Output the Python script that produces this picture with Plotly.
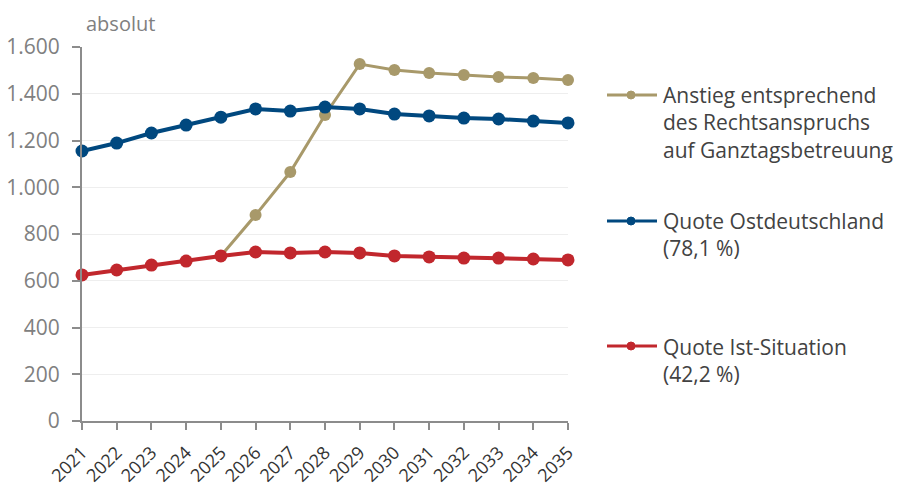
import plotly.graph_objects as go

years = list(range(2021, 2036))
gold_years = list(range(2025, 2036))
gold_vals = [706, 881, 1065, 1309, 1527, 1502, 1489, 1480, 1472, 1467, 1459]
blue_vals = [1155, 1189, 1232, 1266, 1300, 1335, 1326, 1343, 1335, 1313, 1305, 1296, 1292, 1283, 1275]
red_vals = [625, 646, 667, 684, 706, 723, 719, 723, 719, 706, 702, 697, 697, 693, 689]

name_gold = "Anstieg entsprechend<br>des Rechtsanspruchs<br>auf Ganztagsbetreuung"
name_blue = "Quote Ostdeutschland<br>(78,1 %)"
name_red = "Quote Ist-Situation<br>(42,2 %)"

y_ticks = [0, 200, 400, 600, 800, 1000, 1200, 1400, 1600]
y_tick_text = ["0", "200", "400", "600", "800", "1.000", "1.200", "1.400", "1.600"]

GOLD = "#A8996A"
BLUE = "#00487F"
RED = "#C1272D"

# plot-area geometry (pixels) used to place the hand-drawn legend
L, R, T, B = 82, 332, 47, 65
W, H = 900, 486
PW, PH = W - L - R, H - T - B


def px_x(px):
    return (px - L) / PW


def px_y(py):
    return (H - B - py) / PH


fig = go.Figure()
fig.add_trace(go.Scatter(x=gold_years, y=gold_vals, name=name_gold, mode="lines+markers",
                         line=dict(color=GOLD, width=3), marker=dict(size=12, color=GOLD),
                         cliponaxis=False))
fig.add_trace(go.Scatter(x=years, y=blue_vals, name=name_blue, mode="lines+markers",
                         line=dict(color=BLUE, width=4), marker=dict(size=13, color=BLUE),
                         cliponaxis=False))
fig.add_trace(go.Scatter(x=years, y=red_vals, name=name_red, mode="lines+markers",
                         line=dict(color=RED, width=4), marker=dict(size=13, color=RED),
                         cliponaxis=False))

# legend entries: (name, colour, symbol-row y px, text-centre y px)
legend_items = [
    (name_gold, GOLD, 95, 122.5),
    (name_blue, BLUE, 221, 234.5),
    (name_red, RED, 346, 360),
]
shapes = []
annotations = [dict(text="absolut", x=0, xref="paper", y=1, yref="paper",
                    xanchor="left", yanchor="bottom", yshift=8, xshift=2,
                    showarrow=False, font=dict(size=20, color="#808080"))]
for name, col, ly, ty in legend_items:
    shapes.append(dict(type="line", xref="paper", yref="paper",
                       x0=px_x(607), x1=px_x(657), y0=px_y(ly), y1=px_y(ly),
                       line=dict(color=col, width=3)))
    shapes.append(dict(type="circle", xref="paper", yref="paper",
                       x0=px_x(627), x1=px_x(635), y0=px_y(ly + 4), y1=px_y(ly - 4),
                       fillcolor=col, line=dict(color=col, width=1)))
    annotations.append(dict(text=name, x=px_x(661), xref="paper", y=px_y(ty), yref="paper",
                            xanchor="left", yanchor="middle", align="left", showarrow=False,
                            font=dict(size=21, color="#424242")))

fig.update_layout(
    width=W, height=H,
    margin=dict(l=L, r=R, t=T, b=B),
    paper_bgcolor="white", plot_bgcolor="white",
    font=dict(family="Open Sans", size=20, color="#808080"),
    showlegend=False,
    shapes=shapes,
    annotations=annotations,
    xaxis=dict(range=[2021, 2035], tickmode="array", tickvals=years,
               ticktext=[str(y) for y in years], tickangle=-45, automargin=False,
               showline=True, linecolor="#8c8c8c", linewidth=2,
               ticks="outside", ticklen=7, tickcolor="#8c8c8c", tickwidth=2,
               ticklabelstandoff=5,
               showgrid=False, zeroline=False,
               tickfont=dict(size=18, color="#333333")),
    yaxis=dict(range=[0, 1600], tickmode="array", tickvals=y_ticks, ticktext=y_tick_text,
               automargin=False,
               showline=True, linecolor="#8c8c8c", linewidth=2,
               ticks="outside", ticklen=8, tickcolor="#8c8c8c", tickwidth=2,
               ticklabelstandoff=8,
               showgrid=True, gridcolor="#eeeeee", gridwidth=1, zeroline=False,
               tickfont=dict(size=21, color="#808080")),
)

fig.write_html("out.html")
